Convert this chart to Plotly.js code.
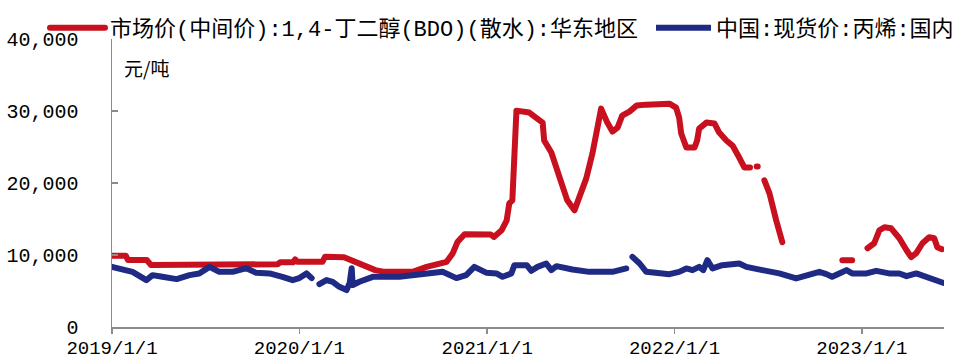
<!DOCTYPE html>
<html>
<head>
<meta charset="utf-8">
<script src="https://cdn.plot.ly/plotly-3.0.1.min.js"></script>
<style>
html,body{margin:0;padding:0;background:#fff}
/* rounded joins and ends on the price lines and legend swatches */
#chart .scatterlayer .js-line,
#chart .legend .js-line{stroke-linejoin:round !important;stroke-linecap:round !important}
</style>
</head>
<body>
<div id="chart" style="width:971px;height:360px"></div>
<script>
// 1,4-丁二醇(BDO) 散水 华东地区 市场价（元/吨）; null = 无报价
const bdoDates = [
  '2019-01-01','2019-01-28','2019-02-01','2019-03-10','2019-03-18','2019-07-20','2019-07-25',
  '2019-11-20','2019-11-25','2019-12-20','2019-12-24','2019-12-28','2020-02-15','2020-02-20',
  '2020-03-28','2020-04-10','2020-05-08','2020-05-28','2020-06-15','2020-08-10','2020-09-05',
  '2020-10-14','2020-10-26','2020-11-04','2020-11-18','2021-01-08','2021-01-14','2021-01-24',
  '2021-01-29','2021-02-08','2021-02-13','2021-02-19','2021-02-27','2021-03-24','2021-04-07',
  '2021-04-19','2021-04-22','2021-05-06','2021-05-22','2021-06-06','2021-06-20','2021-06-29',
  '2021-07-13','2021-07-25','2021-08-04','2021-08-11','2021-08-23','2021-09-02','2021-09-12',
  '2021-09-21','2021-10-05','2021-10-19','2021-11-07','2021-12-22','2022-01-04','2022-01-10',
  '2022-01-14','2022-01-24','2022-02-09','2022-02-14','2022-02-18','2022-03-04','2022-03-20',
  '2022-03-29','2022-04-12','2022-04-24','2022-05-07','2022-05-17','2022-05-28','2022-06-02',
  '2022-06-10','2022-06-12','2022-06-19',
  '2022-06-25','2022-07-05','2022-07-18','2022-07-30','2022-08-10',
  '2022-11-24','2022-12-13','2022-12-28',
  '2023-01-12','2023-01-25','2023-02-04','2023-02-14','2023-02-27','2023-03-15','2023-03-29',
  '2023-04-07','2023-04-17','2023-04-29','2023-05-12','2023-05-22','2023-05-28','2023-06-06'
];
const bdoPrices = [
  9900,9900,9300,9300,8600,8600,8720,
  8720,9000,9000,9400,9050,9050,9740,
  9700,9280,8350,7900,7660,7700,8350,
  9050,10250,11800,12880,12850,12500,13000,
  13430,14820,17170,17590,30050,29780,29085,
  28390,25900,24240,20775,17590,16200,18000,
  20640,24100,28250,30330,28390,27150,27700,
  29360,29915,30750,30885,31020,30470,29085,
  26870,24930,24930,25900,27560,28390,28250,
  27000,25900,25200,23540,22160,22160,null,
  22300,22300,null,
  20360,18560,14820,11770,null,
  9280,9280,null,
  10940,11630,13430,13850,13710,12330,10660,
  9700,10250,11630,12470,12330,11080,10800
];

// 丙烯 国内现货价（元/吨）
const propyleneDates = [
  '2019-01-01','2019-01-21','2019-02-10','2019-03-09','2019-03-21','2019-04-09','2019-05-07',
  '2019-06-01','2019-06-20','2019-07-10','2019-07-29','2019-08-24','2019-09-20','2019-10-09',
  '2019-11-04','2019-11-29','2019-12-19','2020-01-01','2020-01-15','2020-01-25','2020-02-01',
  '2020-02-09','2020-02-23','2020-03-06','2020-03-19','2020-04-02','2020-04-08','2020-04-12',
  '2020-04-14','2020-04-27','2020-05-23','2020-07-14','2020-08-22','2020-10-06','2020-11-02',
  '2020-11-21','2020-12-07','2020-12-23','2020-12-31','2021-01-19','2021-01-31','2021-02-17',
  '2021-02-23','2021-03-19','2021-03-28','2021-04-09','2021-04-26','2021-05-06','2021-05-16',
  '2021-06-16','2021-07-19','2021-09-02','2021-09-29','2021-10-04',
  '2021-10-11','2021-10-25','2021-11-07','2021-12-03','2021-12-22','2022-01-10','2022-01-24',
  '2022-02-05','2022-02-18','2022-02-26','2022-03-06','2022-03-16','2022-04-04','2022-05-07',
  '2022-05-21','2022-06-21','2022-07-24','2022-08-26','2022-09-15','2022-10-10','2022-10-24',
  '2022-11-04','2022-11-18','2022-12-02','2022-12-13','2023-01-10','2023-01-29','2023-02-23',
  '2023-03-15','2023-03-29','2023-04-17','2023-05-06','2023-05-26','2023-06-08'
];
const propylenePrices = [
  8350,7900,7660,6510,7200,6970,6650,
  7200,7440,8350,7660,7660,8170,7520,
  7440,6970,6510,6790,7440,6790,null,
  5960,6510,6280,5580,5125,6100,8170,
  5820,6280,6970,6970,7200,7660,6790,
  7200,8350,7660,7520,7440,6970,7440,
  8590,8590,7800,8350,8820,7900,8450,
  7990,7660,7660,8130,null,
  9740,8820,7660,7440,7340,7660,8130,
  7900,8350,7900,9280,8130,8590,8820,
  8350,7900,7440,6750,7200,7660,7340,
  6970,7440,7900,7440,7440,7800,7440,
  7440,7060,7440,6970,6510,6140
];

const yearTicks = ['2019-01-01','2020-01-01','2021-01-01','2022-01-01','2023-01-01'];
const yearTickText = ['2019/1/1','2020/1/1','2021/1/1','2022/1/1','2023/1/1'];
const priceTicks = [0, 10000, 20000, 30000, 40000];
const priceTickText = ['0','10,000','20,000','30,000','40,000'];

const RED = '#C8101E';
const NAVY = '#1F2A84';
const MONO_CJK = 'Liberation Mono, "Noto Sans CJK SC", sans-serif';

const traces = [
  {
    type: 'scatter', mode: 'lines',
    name: '市场价(中间价):1,4-丁二醇(BDO)(散水):华东地区',
    x: bdoDates, y: bdoPrices, connectgaps: false,
    line: {color: RED, width: 6},
    legend: 'legend'
  },
  {
    type: 'scatter', mode: 'lines',
    name: '中国:现货价:丙烯:国内',
    x: propyleneDates, y: propylenePrices, connectgaps: false,
    line: {color: NAVY, width: 6},
    legend: 'legend2'
  }
];

// one legend box per series so both entries sit on a single row above the plot
function legendBox(leftPx) {
  return {
    orientation: 'h',
    xref: 'container', yref: 'container',
    x: leftPx / 971, xanchor: 'left',
    y: 1 - 7 / 360, yanchor: 'top',
    bgcolor: 'rgba(0,0,0,0)',
    borderwidth: 0,
    itemwidth: 55,
    font: {family: MONO_CJK, size: 22, color: '#000'}
  };
}

const layout = {
  width: 971, height: 360,
  margin: {l: 112, r: 27, t: 39, b: 33, autoexpand: false},
  paper_bgcolor: '#fff', plot_bgcolor: '#fff',
  showlegend: true,
  legend: legendBox(45),
  legend2: legendBox(651),
  xaxis: {
    type: 'date',
    range: ['2019-01-01', '2023-06-10'],
    tickvals: yearTicks, ticktext: yearTickText,
    ticks: 'outside', ticklen: 5, tickwidth: 1.5, tickcolor: '#8c8c8c',
    showline: true, linecolor: '#8c8c8c', linewidth: 1.5,
    showgrid: false, zeroline: false,
    ticklabelstandoff: -2,
    tickfont: {family: MONO_CJK, size: 19, color: '#000'}
  },
  yaxis: {
    range: [0, 40000],
    tickvals: priceTicks, ticktext: priceTickText,
    ticks: 'inside', ticklen: 6, tickwidth: 1.5, tickcolor: '#8c8c8c',
    showline: true, linecolor: '#8c8c8c', linewidth: 1.5,
    showgrid: false, zeroline: false,
    ticklabelstandoff: 28,
    tickfont: {family: MONO_CJK, size: 20, color: '#000'}
  },
  annotations: [{
    xref: 'paper', yref: 'paper',
    x: 10 / 832, y: 1 - 28 / 288,
    xanchor: 'left', yanchor: 'middle',
    text: '元/吨', showarrow: false,
    font: {family: '"Noto Sans CJK SC", sans-serif', size: 19, color: '#000'}
  }]
};

Plotly.newPlot('chart', traces, layout, {displayModeBar: false, staticPlot: true});
</script>
</body>
</html>
